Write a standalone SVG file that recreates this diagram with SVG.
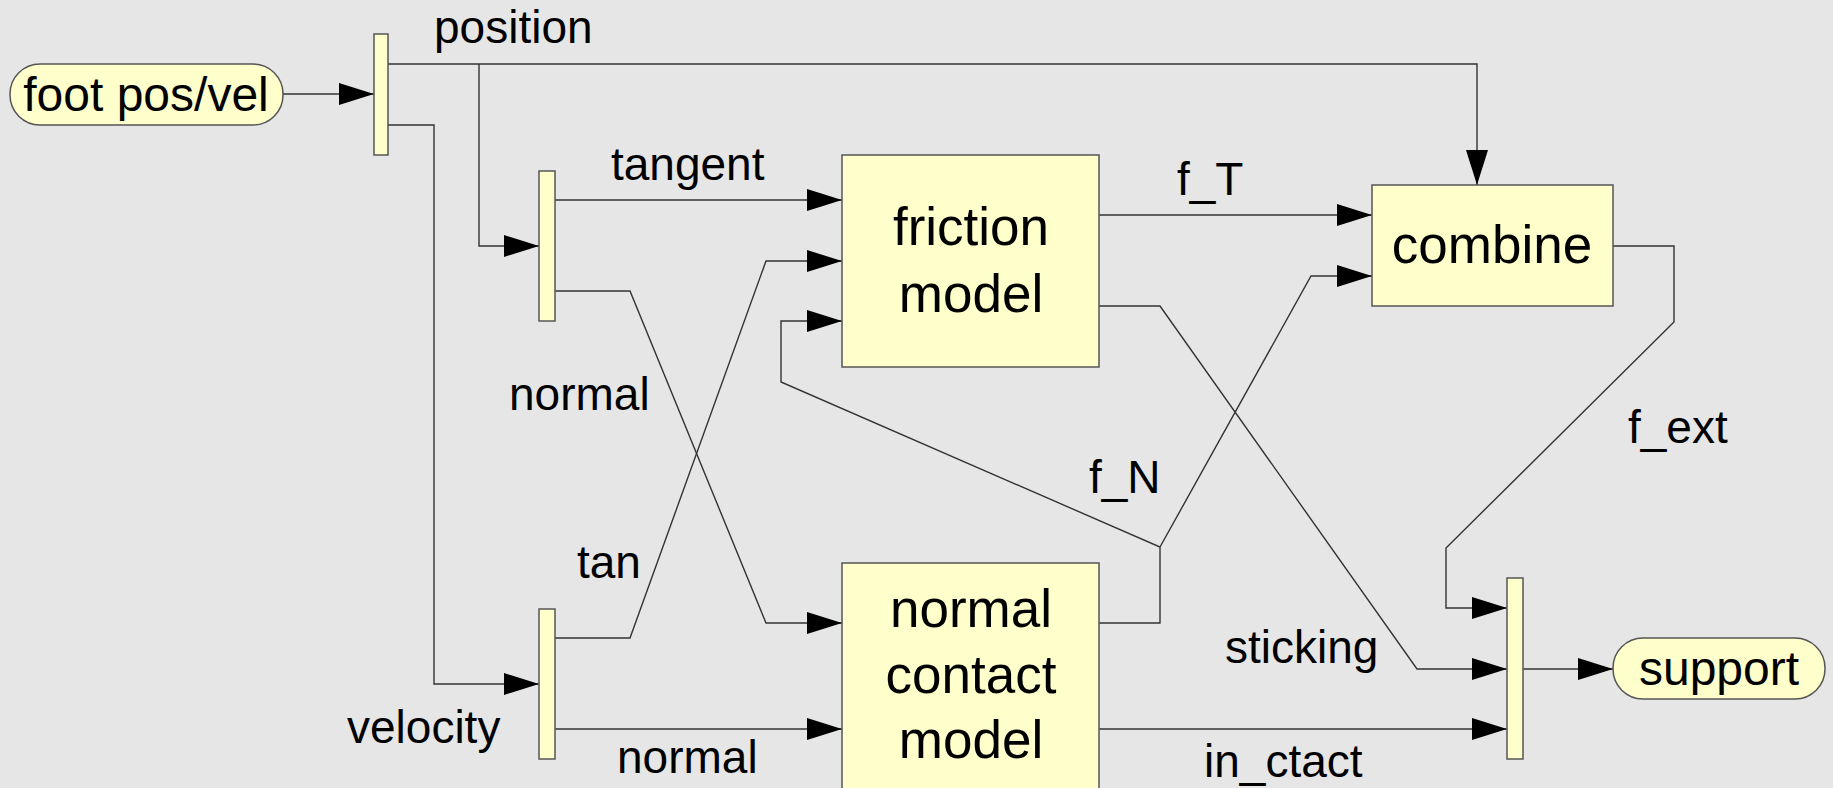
<svg xmlns="http://www.w3.org/2000/svg" width="1833" height="788" viewBox="0 0 1833 788">
<style>
.node{fill:#ffffcc;stroke:#555;stroke-width:1.5}
.bar{fill:#ffffcc;stroke:#555;stroke-width:1.5}
.wire{fill:none;stroke:#333;stroke-width:1.4}
.arr{fill:none;stroke:#333;stroke-width:1.4;marker-end:url(#ah)}
text{font-family:"Liberation Sans",Arial,sans-serif;fill:#000}
.lbl{font-size:46px}
.term{font-size:48px;text-anchor:middle}
.box{font-size:53px;text-anchor:middle}
</style>
<defs>
<marker id="ah" markerUnits="userSpaceOnUse" markerWidth="36" markerHeight="24" refX="35" refY="12" orient="auto">
<path d="M0,1 L35,12 L0,23 z" fill="#000"/>
</marker>
</defs>
<rect width="1833" height="788" fill="#e6e6e6"/>
<g id="connectors">
<path class="arr" d="M283,94 H374"/>
<path class="arr" d="M388,64 H1477 V185"/>
<path class="arr" d="M479,64 V246 H539"/>
<path class="arr" d="M388,125 H434 V684 H539"/>
<path class="arr" d="M555,200 H842"/>
<path class="arr" d="M555,638 H630 L766,261 H842"/>
<path class="arr" d="M555,291 H630 L766,623 H842"/>
<path class="arr" d="M555,729 H842"/>
<path class="arr" d="M1099,623 H1160 V547 L781,382 V321 H842"/>
<path class="arr" d="M1160,547 L1311,276 H1372"/>
<path class="arr" d="M1099,215 H1372"/>
<path class="arr" d="M1099,306 H1160 L1417,669 H1507"/>
<path class="arr" d="M1613,246 H1674 V322 L1446,548 V608 H1507"/>
<path class="arr" d="M1099,729 H1507"/>
<path class="arr" d="M1523,669 H1613"/>
</g>
<g id="foot"><rect class="node" x="10" y="64" width="273" height="61" rx="30"/><text class="term" x="146" y="111">foot pos/vel</text></g>
<g id="split1"><rect class="bar" x="374" y="34" width="14" height="121"/></g>
<g id="split2"><rect class="bar" x="539" y="171" width="16" height="150"/></g>
<g id="split3"><rect class="bar" x="539" y="609" width="16" height="150"/></g>
<g id="split4"><rect class="bar" x="1507" y="578" width="16" height="181"/></g>
<g id="friction"><rect class="node" x="842" y="155" width="257" height="212"/><text class="box" x="971" y="245">friction</text><text class="box" x="971" y="312">model</text></g>
<g id="combine"><rect class="node" x="1372" y="185" width="241" height="121"/><text class="box" x="1492" y="263">combine</text></g>
<g id="normalcontact"><rect class="node" x="842" y="563" width="257" height="240"/><text class="box" x="971" y="627">normal</text><text class="box" x="971" y="693">contact</text><text class="box" x="971" y="758">model</text></g>
<g id="support"><rect class="node" x="1613" y="638" width="212" height="61" rx="30"/><text class="term" x="1719" y="685">support</text></g>
<g id="labels">
<text class="lbl" x="434" y="43">position</text>
<text class="lbl" x="611" y="180">tangent</text>
<text class="lbl" x="509" y="410">normal</text>
<text class="lbl" x="577" y="578">tan</text>
<text class="lbl" x="347" y="743">velocity</text>
<text class="lbl" x="617" y="773">normal</text>
<text class="lbl" x="1177" y="195">f_T</text>
<text class="lbl" x="1089" y="493">f_N</text>
<text class="lbl" x="1628" y="443">f_ext</text>
<text class="lbl" x="1225" y="663">sticking</text>
<text class="lbl" x="1204" y="777">in_ctact</text>
</g>
</svg>
